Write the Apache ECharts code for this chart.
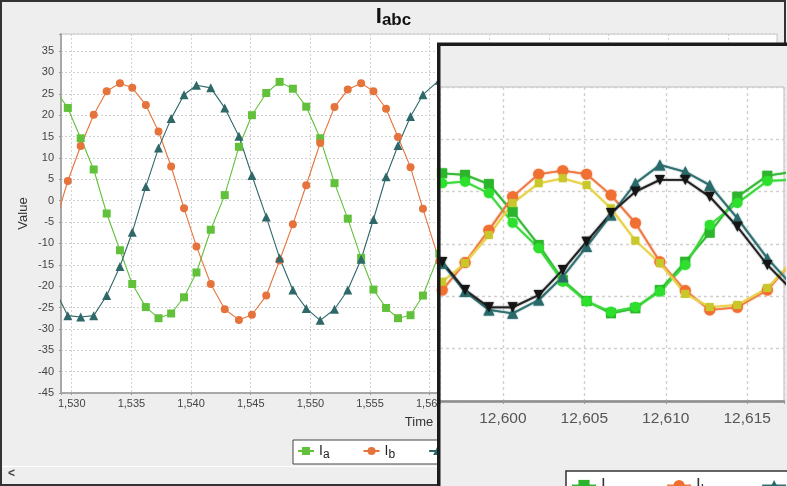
<!DOCTYPE html>
<html>
<head>
<meta charset="utf-8">
<script src="https://cdn.jsdelivr.net/npm/echarts@6/dist/echarts.min.js"></script>
<style>
  html, body { margin: 0; padding: 0; background: #eeeeee; }
  #chart { width: 787px; height: 486px; }
</style>
</head>
<body>
<div id="chart"></div>
<script>
// ---- main plot: phase currents, t = 1529 .. 1561 ----
const mainTime = [1528.58, 1529.67, 1530.75, 1531.84, 1532.93, 1534.04, 1535.07, 1536.21, 1537.27, 1538.33,
                  1539.41, 1540.45, 1541.65, 1542.82, 1544.01, 1545.10, 1546.30, 1547.42, 1548.53, 1549.65,
                  1550.82, 1552.02, 1553.13, 1554.25, 1555.28, 1556.34, 1557.34, 1558.39, 1559.43, 1560.80];
const mainIa = [26.0, 21.7, 14.6, 7.3, -3.0, -11.6, -19.5, -24.9, -27.5, -26.4,
                -22.6, -16.8, -6.8, 1.3, 12.6, 20.0, 25.2, 27.8, 26.2, 22.0,
                14.6, 4.1, -4.2, -13.4, -20.8, -25.1, -27.5, -26.8, -22.2, -12.4];
const mainIb = [-5.5, 4.6, 12.8, 20.1, 25.6, 27.5, 26.4, 22.4, 16.2, 8.0,
                -1.8, -10.7, -19.5, -25.4, -27.9, -26.7, -22.2, -14.0, -5.5, 3.6,
                13.5, 21.9, 26.0, 27.5, 25.6, 21.5, 14.9, 7.8, -1.9, -14.1];
const mainIc = [-20.8, -26.9, -27.2, -26.9, -22.2, -15.4, -7.4, 3.3, 12.3, 19.2,
                24.8, 27.0, 26.4, 21.7, 15.1, 5.9, -3.8, -13.4, -20.9, -25.2,
                -28.0, -25.4, -20.9, -13.7, -4.4, 5.6, 12.9, 19.7, 24.8, 28.2];

// ---- overlaid window: two measurements per phase, t = 12595 .. 12618 ----
const insetTime = [12594.80, 12596.28, 12597.68, 12599.14, 12600.60, 12602.20, 12603.68, 12605.14,
                   12606.64, 12608.14, 12609.64, 12611.20, 12612.70, 12614.40, 12616.24, 12617.74];
const insetIa1 = [23.3, 27.0, 26.4, 22.9, 12.3, -0.4, -13.8, -21.8, -26.5, -24.6, -17.6, -6.8, 4.3, 18.1, 26.1, 27.5];
const insetIa2 = [20.6, 23.2, 23.8, 19.4, 8.1, -1.6, -14.4, -22.0, -25.9, -24.1, -18.2, -8.0, 7.3, 15.7, 24.1, 24.5];
const insetIb1 = [-23.3, -17.6, -7.1, 5.3, 18.1, 26.7, 28.0, 26.7, 18.7, 8.0, -6.8, -17.8, -25.2, -24.2, -17.6, -6.9];
const insetIb2 = [-21.4, -14.4, -7.3, 3.4, 15.6, 23.2, 25.1, 22.5, 13.6, 1.3, -7.3, -19.1, -24.1, -23.3, -16.8, -6.9];
const insetIc1 = [4.6, -7.4, -18.2, -25.2, -26.5, -21.4, -12.5, -1.0, 11.1, 23.2, 30.2, 27.6, 22.5, 9.8, -5.5, -15.7];
const insetIc2 = [3.4, -6.9, -17.6, -24.2, -24.2, -19.5, -9.9, 0.9, 11.8, 20.0, 24.5, 24.5, 18.1, 6.6, -8.0, -17.6];

const pairs = (xs, ys) => xs.map((x, i) => [x, ys[i]]);
const FONT = 'Liberation Sans, Arial, sans-serif';
const tickLabel = v => (Math.abs(v % 5) < 1e-6 ? v.toLocaleString('en-US') : '');
const legendText = n => '{m|I}{s|' + n.charAt(1) + '}';

const chart = echarts.init(document.getElementById('chart'), null, { renderer: 'canvas' });

function mainSeries(name, data, color, symbol, size) {
  return {
    name, type: 'line', xAxisIndex: 0, yAxisIndex: 0, data: pairs(mainTime, data),
    symbol, symbolSize: size, showAllSymbol: true, z: 2,
    lineStyle: { color, width: 1.1 }, itemStyle: { color, borderWidth: 0 }
  };
}
function insetSeries(name, data, color, lineColor, symbol, size, rotate) {
  return {
    name, type: 'line', xAxisIndex: 1, yAxisIndex: 1, data: pairs(insetTime, data),
    symbol, symbolSize: size, symbolRotate: rotate || 0, showAllSymbol: true, z: 53,
    lineStyle: { color: lineColor, width: 1.8, shadowBlur: 1.5, shadowColor: lineColor },
    itemStyle: { color, borderWidth: 0, shadowBlur: 1.5, shadowColor: color }
  };
}

const gridLine = { lineStyle: { color: '#d2d2d2', width: 1, type: [2, 2] } };

chart.setOption({
  animation: false,
  backgroundColor: '#eeeeee',
  title: {
    text: '{m|I}{s|abc}', left: 'center', top: 6, padding: 0,
    textStyle: {
      rich: {
        m: { fontFamily: FONT, fontSize: 22, fontWeight: 'bold', color: '#111', lineHeight: 22, verticalAlign: 'top' },
        s: { fontFamily: FONT, fontSize: 17, fontWeight: 'bold', color: '#111', lineHeight: 17, verticalAlign: 'top', padding: [6, 0, 0, 0] }
      }
    }
  },
  legend: [{
    data: ['Ia', 'Ib', 'Ic'], left: 293, top: 440, orient: 'horizontal',
    padding: [4, 4, 3, 4], itemWidth: 16, itemHeight: 10, itemGap: 33,
    backgroundColor: '#ffffff', borderColor: '#444', borderWidth: 1, borderRadius: 0,
    formatter: legendText,
    textStyle: {
      padding: [0, 0, 0, 0],
      rich: {
        m: { fontFamily: FONT, fontSize: 14, color: '#222', lineHeight: 14, verticalAlign: 'top' },
        s: { fontFamily: FONT, fontSize: 12, color: '#222', lineHeight: 12, verticalAlign: 'top', padding: [5, 0, 0, 0] }
      }
    }
  }, {
    data: ['Ia_1', 'Ib_1', 'Ic_1', 'Ia_2', 'Ib_2', 'Ic_2'], left: 566, top: 471, width: 900, orient: 'horizontal',
    padding: [6, 5, 6, 5], itemWidth: 24, itemHeight: 14, itemGap: 52, z: 54,
    backgroundColor: '#ffffff', borderColor: '#333', borderWidth: 1.5, borderRadius: 0,
    formatter: legendText,
    textStyle: {
      rich: {
        m: { fontFamily: FONT, fontSize: 17, color: '#333', lineHeight: 17, verticalAlign: 'top' },
        s: { fontFamily: FONT, fontSize: 15, color: '#333', lineHeight: 15, verticalAlign: 'top', padding: [6, 0, 0, 0] }
      }
    }
  }],
  grid: [
    { left: 61, top: 34, right: 10, bottom: 93, show: true, backgroundColor: '#ffffff', borderColor: '#c8c8c8', borderWidth: 1 },
    { left: 440, top: 87, right: -5, bottom: 85, show: true, backgroundColor: '#ffffff', borderColor: '#bdbdbd', borderWidth: 1, z: 51 }
  ],
  xAxis: [{
    type: 'value', gridIndex: 0, min: 1529.1, max: 1589.1, splitNumber: 12,
    name: 'Time', nameLocation: 'middle', nameGap: 23, nameMoveOverlap: false,
    nameTextStyle: { fontFamily: FONT, fontSize: 13, color: '#333' },
    axisLine: { onZero: false, lineStyle: { color: '#a8a8a8', width: 2 } },
    axisTick: { show: true, length: 2, lineStyle: { color: '#999' } },
    axisLabel: { margin: 5, fontFamily: FONT, fontSize: 11, color: '#444', formatter: tickLabel, hideOverlap: false },
    splitLine: gridLine
  }, {
    type: 'value', gridIndex: 1, min: 12596.14, max: 12617.26, splitNumber: 5, z: 52,
    axisLine: { onZero: false, lineStyle: { color: '#8c8c8c', width: 2.5 } },
    axisTick: { show: true, length: 3, lineStyle: { color: '#999' } },
    axisLabel: { margin: 10, fontFamily: FONT, fontSize: 15.5, color: '#555', formatter: tickLabel },
    splitLine: { lineStyle: { color: '#d0d0d0', width: 1.4, type: [3, 3] } }
  }],
  yAxis: [{
    type: 'value', gridIndex: 0, min: -45, max: 39, interval: 5,
    name: 'Value', nameLocation: 'middle', nameGap: 31, nameMoveOverlap: false,
    nameTextStyle: { fontFamily: FONT, fontSize: 13, color: '#333' },
    axisLine: { show: true, onZero: false, lineStyle: { color: '#a8a8a8', width: 2 } },
    axisTick: { show: true, length: 2, lineStyle: { color: '#999' } },
    axisLabel: { margin: 7, fontFamily: FONT, fontSize: 11, color: '#444', formatter: tickLabel },
    splitLine: gridLine
  }, {
    type: 'value', gridIndex: 1, min: -60, max: 60, interval: 20, z: 52,
    axisLine: { show: false }, axisTick: { show: false }, axisLabel: { show: false },
    splitLine: { lineStyle: { color: '#d0d0d0', width: 1.4, type: [3, 3] } }
  }],
  series: [
    mainSeries('Ia', mainIa, '#62c13b', 'rect', 8),
    mainSeries('Ib', mainIb, '#e5733b', 'circle', 8),
    mainSeries('Ic', mainIc, '#2f6868', 'triangle', 9),
    insetSeries('Ia_1', insetIa1, '#2cb52c', '#34b834', 'rect', 10),
    insetSeries('Ia_2', insetIa2, '#2ee02e', '#3ad83a', 'circle', 10),
    insetSeries('Ib_1', insetIb1, '#f07034', '#ee7a44', 'circle', 11),
    insetSeries('Ib_2', insetIb2, '#c9c82a', '#e8d24a', 'rect', 8),
    insetSeries('Ic_1', insetIc1, '#2a6a6a', '#2f7070', 'triangle', 11),
    insetSeries('Ic_2', insetIc2, '#151515', '#222222', 'triangle', 10, 180)
  ],
  graphic: { elements: [
    { type: 'rect', z: 40, silent: true, shape: { x: 1, y: 1, width: 784, height: 484 },
      style: { fill: 'none', stroke: '#333', lineWidth: 2 } },
    { type: 'line', z: 40, silent: true, shape: { x1: 2, y1: 466.5, x2: 785, y2: 466.5 },
      style: { stroke: '#ffffff', lineWidth: 1 } },
    { type: 'text', z: 40, silent: true, x: 8, y: 468,
      style: { text: '<', fill: '#444', font: 'bold 12px ' + FONT } },
    { type: 'rect', z: 50, silent: true, shape: { x: 438.75, y: 44.25, width: 360, height: 460 },
      style: { fill: '#eeeeee', stroke: null } },
    { type: 'rect', z: 58, silent: true, shape: { x: 438.75, y: 44.25, width: 360, height: 460 },
      style: { fill: 'none', stroke: '#1b1b1b', lineWidth: 3.5 } }
  ] }
});
</script>
</body>
</html>
